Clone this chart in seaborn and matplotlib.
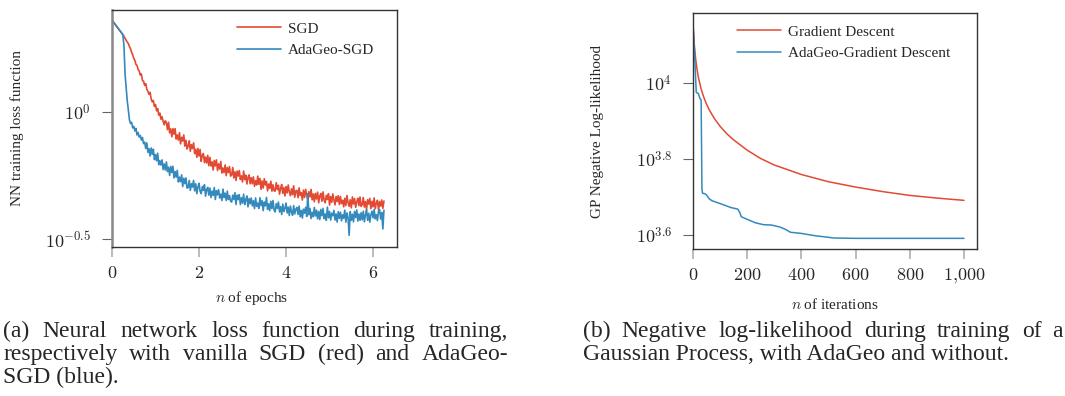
import numpy as np
import pandas as pd
import matplotlib
matplotlib.use("Agg")
import matplotlib.pyplot as plt
import seaborn as sns
from matplotlib.ticker import FixedLocator, NullLocator

# (a) NN training loss, log10 values (0.025 epoch steps after 0.25)
epochs = np.concatenate([[0.0], np.round(0.25 + 0.025 * np.arange(241), 3)])

sgd_log = [0.362,
    0.305, 0.298, 0.291, 0.283, 0.276, 0.270, 0.258, 0.250, 0.236, 0.226,
    0.212, 0.204, 0.188, 0.184, 0.168, 0.162, 0.146, 0.150, 0.124, 0.122,
    0.105, 0.112, 0.090, 0.082, 0.070, 0.078, 0.052, 0.040, 0.046, 0.022,
    0.030, 0.005, 0.014, -0.012, -0.004, -0.028, -0.018, -0.036, -0.050, -0.034,
    -0.041, -0.069, -0.040, -0.082, -0.066, -0.097, -0.065, -0.087, -0.065, -0.106,
    -0.090, -0.110, -0.081, -0.125, -0.099, -0.114, -0.090, -0.134, -0.111, -0.145,
    -0.133, -0.113, -0.154, -0.128, -0.143, -0.121, -0.163, -0.146, -0.178, -0.143,
    -0.173, -0.147, -0.194, -0.170, -0.163, -0.199, -0.177, -0.200, -0.170, -0.211,
    -0.178, -0.212, -0.196, -0.228, -0.190, -0.212, -0.188, -0.230, -0.204, -0.224,
    -0.194, -0.240, -0.220, -0.238, -0.208, -0.250, -0.218, -0.238, -0.214, -0.252,
    -0.248, -0.218, -0.259, -0.235, -0.269, -0.232, -0.252, -0.230, -0.265, -0.251,
    -0.275, -0.232, -0.266, -0.248, -0.283, -0.257, -0.247, -0.282, -0.258, -0.282,
    -0.255, -0.292, -0.270, -0.287, -0.252, -0.284, -0.261, -0.304, -0.271, -0.299,
    -0.262, -0.287, -0.273, -0.310, -0.283, -0.300, -0.272, -0.311, -0.286, -0.310,
    -0.311, -0.278, -0.305, -0.288, -0.323, -0.300, -0.285, -0.320, -0.297, -0.330,
    -0.293, -0.318, -0.287, -0.314, -0.329, -0.302, -0.325, -0.290, -0.335, -0.310,
    -0.308, -0.337, -0.298, -0.328, -0.317, -0.346, -0.307, -0.336, -0.304, -0.327,
    -0.346, -0.313, -0.334, -0.304, -0.345, -0.322, -0.353, -0.320, -0.342, -0.315,
    -0.357, -0.330, -0.320, -0.351, -0.314, -0.346, -0.357, -0.328, -0.344, -0.321,
    -0.366, -0.332, -0.355, -0.322, -0.346, -0.365, -0.332, -0.352, -0.329, -0.364,
    -0.332, -0.360, -0.347, -0.373, -0.339, -0.368, -0.328, -0.356, -0.371, -0.345,
    -0.377, -0.334, -0.362, -0.340, -0.375, -0.353, -0.339, -0.368, -0.334, -0.371,
    -0.365, -0.336, -0.374, -0.352, -0.383, -0.345, -0.362, -0.340, -0.380, -0.351,
    -0.373, -0.338, -0.380, -0.358, -0.347, -0.385, -0.352, -0.370, -0.346, -0.379,
    -0.350]

adageo_sgd_log = [0.362,
    0.305, 0.260, 0.150, 0.100, 0.045, 0.010, -0.030, -0.045, -0.040, -0.062,
    -0.056, -0.074, -0.064, -0.090, -0.080, -0.098, -0.092, -0.110, -0.100, -0.124,
    -0.118, -0.143, -0.121, -0.158, -0.144, -0.173, -0.141, -0.166, -0.146, -0.187,
    -0.167, -0.192, -0.162, -0.207, -0.191, -0.208, -0.188, -0.226, -0.204, -0.228,
    -0.196, -0.234, -0.217, -0.249, -0.214, -0.238, -0.213, -0.259, -0.234, -0.256,
    -0.229, -0.275, -0.256, -0.274, -0.247, -0.293, -0.260, -0.282, -0.259, -0.299,
    -0.297, -0.269, -0.308, -0.282, -0.295, -0.269, -0.310, -0.282, -0.321, -0.295,
    -0.280, -0.312, -0.321, -0.293, -0.308, -0.286, -0.331, -0.305, -0.296, -0.327,
    -0.299, -0.336, -0.311, -0.328, -0.297, -0.344, -0.309, -0.326, -0.305, -0.338,
    -0.323, -0.348, -0.303, -0.336, -0.319, -0.348, -0.311, -0.344, -0.329, -0.350,
    -0.354, -0.327, -0.344, -0.317, -0.364, -0.327, -0.344, -0.325, -0.364, -0.337,
    -0.358, -0.323, -0.364, -0.345, -0.330, -0.373, -0.340, -0.361, -0.338, -0.369,
    -0.349, -0.380, -0.338, -0.371, -0.358, -0.379, -0.337, -0.368, -0.349, -0.388,
    -0.354, -0.369, -0.336, -0.383, -0.361, -0.388, -0.351, -0.380, -0.348, -0.385,
    -0.393, -0.360, -0.379, -0.354, -0.393, -0.372, -0.403, -0.362, -0.391, -0.379,
    -0.358, -0.397, -0.374, -0.407, -0.370, -0.393, -0.406, -0.368, -0.401, -0.382,
    -0.375, -0.403, -0.370, -0.412, -0.387, -0.417, -0.382, -0.398, -0.375, -0.411,
    -0.321, -0.404, -0.379, -0.419, -0.394, -0.412, -0.375, -0.409, -0.386, -0.420,
    -0.391, -0.423, -0.383, -0.408, -0.379, -0.419, -0.401, -0.426, -0.374, -0.416,
    -0.391, -0.425, -0.398, -0.408, -0.387, -0.425, -0.401, -0.433, -0.392, -0.418,
    -0.394, -0.428, -0.404, -0.418, -0.386, -0.433, -0.397, -0.415, -0.485, -0.392,
    -0.426, -0.402, -0.432, -0.391, -0.415, -0.385, -0.429, -0.401, -0.426, -0.396,
    -0.424, -0.390, -0.432, -0.405, -0.385, -0.426, -0.398, -0.433, -0.405, -0.390,
    -0.416, -0.383, -0.420, -0.404, -0.427, -0.391, -0.384, -0.421, -0.395, -0.460,
    -0.386]

# (b) GP negative log-likelihood, log10 values
gd_iters = [0, 5, 10, 15, 20, 30, 40, 50, 60, 80, 100, 125, 150, 200, 250, 300,
            400, 500, 600, 700, 800, 900, 1000]
gd_log = [4.155, 4.100, 4.062, 4.035, 4.014, 3.984, 3.962, 3.944, 3.929, 3.905,
          3.886, 3.866, 3.850, 3.823, 3.801, 3.784, 3.759, 3.740, 3.726, 3.714,
          3.704, 3.697, 3.691]

ada_iters = [0, 5, 12, 20, 25, 30, 33, 35, 45, 50, 60, 70, 90, 110, 140, 165,
             172, 178, 200, 230, 260, 290, 320, 340, 360, 400, 450, 520, 600, 1000]
ada_log = [4.155, 4.090, 3.975, 3.972, 3.960, 3.955, 3.720, 3.710, 3.708, 3.705,
           3.695, 3.690, 3.685, 3.680, 3.672, 3.668, 3.660, 3.648, 3.641, 3.632,
           3.627, 3.626, 3.621, 3.615, 3.607, 3.604, 3.598, 3.592, 3.591, 3.591]

df_a = pd.DataFrame({"epoch": epochs,
                     "SGD": 10 ** np.array(sgd_log),
                     "AdaGeo-SGD": 10 ** np.array(adageo_sgd_log)})
df_gd = pd.DataFrame({"it": gd_iters, "nll": 10 ** np.array(gd_log)})
df_ada = pd.DataFrame({"it": ada_iters, "nll": 10 ** np.array(ada_log)})

RED = "#e24a33"
BLUE = "#348abd"

sns.set_style("white")
plt.rcParams["font.family"] = ["Liberation Serif", "DejaVu Serif"]
plt.rcParams["mathtext.fontset"] = "cm"

fig = plt.figure(figsize=(10.65, 3.96), dpi=100)
W, H = 1065, 396
ax1 = fig.add_axes([112 / W, 1 - 247 / H, 285 / W, 237 / H])
ax2 = fig.add_axes([693 / W, 1 - 249 / H, 284 / W, 236 / H])

sns.lineplot(data=df_a, x="epoch", y="SGD", color=RED, lw=1.2, label="SGD", ax=ax1)
sns.lineplot(data=df_a, x="epoch", y="AdaGeo-SGD", color=BLUE, lw=1.2, label="AdaGeo-SGD", ax=ax1)
sns.lineplot(data=df_gd, x="it", y="nll", color=RED, lw=1.1, label="Gradient Descent", ax=ax2)
sns.lineplot(data=df_ada, x="it", y="nll", color=BLUE, lw=1.1, label="AdaGeo-Gradient Descent", ax=ax2)


def style_axes(ax):
    ax.set_yscale("log")
    for s in ax.spines.values():
        s.set_color("#333333")
        s.set_linewidth(1.0)
    ax.tick_params(axis="y", which="major", direction="out", length=7, width=0.8,
                   color="#666666", labelsize=13, pad=8, left=True)
    ax.tick_params(axis="x", which="major", direction="out", length=7, width=1.4,
                   color="#bbbbbb", labelsize=13, pad=6, bottom=True)
    ax.yaxis.set_minor_locator(NullLocator())
    ax.xaxis.set_minor_locator(NullLocator())


style_axes(ax1)
style_axes(ax2)
ax1.spines["left"].set_color("#888888")
ax1.spines["left"].set_linewidth(1.8)

ax1.set_xlim(0, 6.55)
ax1.set_ylim(10 ** -0.531, 10 ** 0.402)
ax1.xaxis.set_major_locator(FixedLocator([0, 2, 4, 6]))
ax1.set_xticklabels(["$0$", "$2$", "$4$", "$6$"])
ax1.yaxis.set_major_locator(FixedLocator([10 ** -0.5, 1.0]))
ax1.set_yticklabels(["$10^{-0.5}$", "$10^{0}$"])

ax2.set_xlim(0, 1048)
ax2.set_ylim(10 ** 3.563, 10 ** 4.184)
ax2.xaxis.set_major_locator(FixedLocator([0, 200, 400, 600, 800, 1000]))
ax2.set_xticklabels(["$0$", "$200$", "$400$", "$600$", "$800$", "$1{,}000$"])
ax2.yaxis.set_major_locator(FixedLocator([10 ** 3.6, 10 ** 3.8, 10 ** 4]))
ax2.set_yticklabels(["$10^{3.6}$", "$10^{3.8}$", "$10^{4}$"])

ax1.set_xlabel("$n$ of epochs", fontsize=11)
ax1.set_ylabel("NN training loss function", fontsize=11)
ax2.set_xlabel("$n$ of iterations", fontsize=11)
ax2.set_ylabel("GP Negative Log-likelihood", fontsize=11)
ax1.xaxis.set_label_coords(0.49, -0.215)
ax2.xaxis.set_label_coords(0.5, -0.237)
ax1.yaxis.set_label_coords(-0.333, 0.5)
ax2.yaxis.set_label_coords(-0.335, 0.5)
for a in (ax1, ax2):
    a.xaxis.label.set_va("center")
    a.yaxis.label.set_va("center")

ax1.legend(frameon=False, loc="upper left", bbox_to_anchor=(237 / W, 1 - 22 / H),
           bbox_transform=fig.transFigure, borderaxespad=0, borderpad=0,
           handlelength=2.9, handletextpad=0.45, fontsize=11)
ax2.legend(frameon=False, loc="upper left", bbox_to_anchor=(737 / W, 1 - 25 / H),
           bbox_transform=fig.transFigure, borderaxespad=0, borderpad=0,
           handlelength=2.9, handletextpad=0.45, fontsize=11)

# captions, typeset like justified LaTeX lines
CAP = 17
renderer = fig.canvas.get_renderer()


def caption_line(x0, x1, y, text, justify):
    if not justify:
        fig.text(x0 / W, 1 - y / H, text, fontsize=CAP, va="baseline")
        return
    words = text.split(" ")
    objs = [fig.text(0, 1 - y / H, w, fontsize=CAP, va="baseline") for w in words]
    widths = [o.get_window_extent(renderer).width for o in objs]
    gap = (x1 - x0 - sum(widths)) / (len(words) - 1)
    x = x0
    for o, w in zip(objs, widths):
        o.set_x(x / W)
        x += w + gap


caption_line(3, 508, 337, "(a) Neural network loss function during training,", True)
caption_line(3, 508, 360, "respectively with vanilla SGD (red) and AdaGeo-", True)
caption_line(3, 508, 383, "SGD (blue).", False)
caption_line(583, 1063, 337, "(b) Negative log-likelihood during training of a", True)
caption_line(583, 1063, 360, "Gaussian Process, with AdaGeo and without.", False)

fig.savefig("out.png", dpi=100)
